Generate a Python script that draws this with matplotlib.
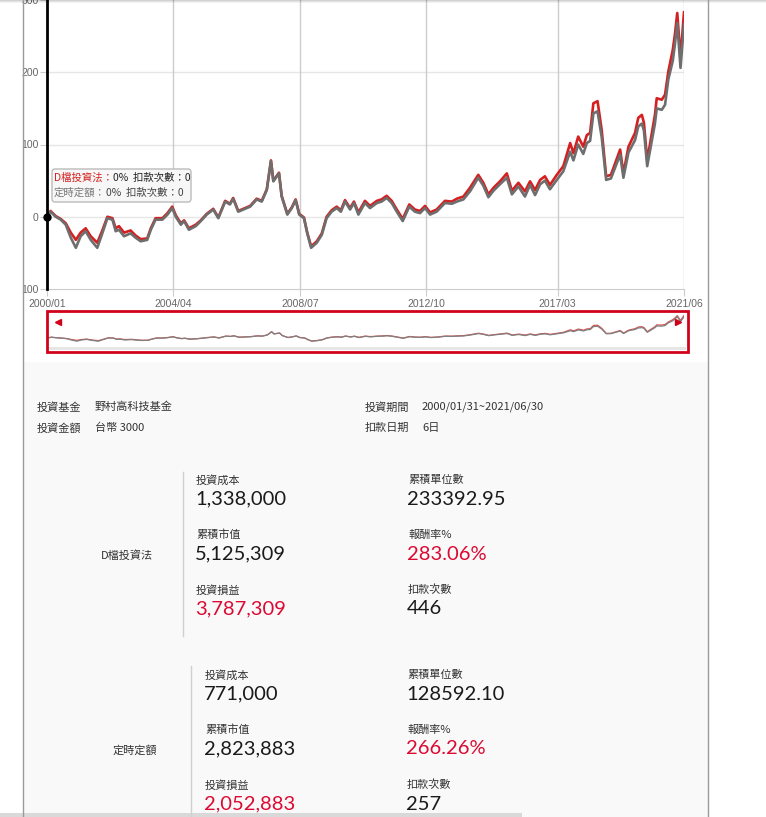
import numpy as np
import matplotlib.pyplot as plt
from matplotlib.patches import Rectangle, FancyBboxPatch
from matplotlib.lines import Line2D

plt.rcParams['font.family'] = ['Noto Sans CJK TC', 'DejaVu Sans']

W, H = 766, 817

# time as decimal year (2000/01 -> 2000.0), return in %
t = [2000.00, 2000.12, 2000.29, 2000.46, 2000.63, 2000.80, 2000.97, 2001.13, 2001.30, 2001.47,
     2001.69, 2001.86, 2002.03, 2002.20, 2002.31, 2002.42, 2002.59, 2002.81, 2002.98, 2003.15,
     2003.37, 2003.49, 2003.65, 2003.88, 2004.05, 2004.21, 2004.33, 2004.50, 2004.61, 2004.77,
     2005.00, 2005.17, 2005.37, 2005.59, 2005.76, 2005.99, 2006.15, 2006.26, 2006.43, 2006.60,
     2006.83, 2007.05, 2007.22, 2007.39, 2007.53, 2007.61, 2007.80, 2007.89, 2008.08, 2008.23,
     2008.36, 2008.48, 2008.64, 2008.75, 2008.88, 2009.07, 2009.24, 2009.40, 2009.57, 2009.74,
     2009.88, 2010.02, 2010.19, 2010.32, 2010.47, 2010.69, 2010.86, 2011.09, 2011.25, 2011.42,
     2011.59, 2011.76, 2011.96, 2012.18, 2012.37, 2012.54, 2012.71, 2012.88, 2013.10, 2013.38,
     2013.61, 2013.78, 2014.00, 2014.22, 2014.50, 2014.67, 2014.84, 2015.01, 2015.23, 2015.46,
     2015.63, 2015.85, 2016.07, 2016.24, 2016.41, 2016.58, 2016.74, 2016.91, 2017.14, 2017.36,
     2017.59, 2017.70, 2017.86, 2018.03, 2018.15, 2018.26, 2018.37, 2018.51, 2018.65, 2018.80,
     2018.96, 2019.10, 2019.27, 2019.38, 2019.55, 2019.77, 2019.88, 2020.00, 2020.07, 2020.18,
     2020.30, 2020.44, 2020.50, 2020.67, 2020.78, 2020.89, 2021.04, 2021.11, 2021.19, 2021.30,
     2021.417]
d_ret = [0, 8, 1, -3, -9, -22, -32, -22, -16, -27,
         -36, -19, 0, -2, -16, -13, -22, -19, -26, -31,
         -30, -16, -2, -2, 5, 14, 2, -9, -5, -16,
         -11, -5, 4, 11, -1, 22, 18, 26, 8, 11,
         15, 25, 22, 38, 78, 50, 61, 29, 4, 13,
         24, 4, -1, -22, -41, -34, -23, 0, 9, 14,
         9, 23, 12, 21, 6, 22, 15, 22, 24, 29,
         22, 10, -3, 17, 10, 8, 15, 6, 10, 22,
         21, 25, 28, 40, 58, 47, 31, 40, 49, 60,
         36, 47, 35, 49, 37, 51, 56, 44, 58, 70,
         102, 88, 111, 97, 113, 116, 157, 160, 120, 56,
         58, 74, 93, 60, 97, 116, 137, 141, 130, 78,
         107, 141, 164, 162, 169, 201, 231, 252, 282, 220,
         283.06]
fix_ret = [0, 7, 0, -4, -11, -29, -43, -27, -20, -32,
           -43, -23, -2, -4, -20, -18, -27, -23, -29, -34,
           -32, -18, -4, -4, 3, 12, 0, -11, -6, -18,
           -13, -6, 3, 10, -2, 21, 17, 25, 7, 10,
           14, 24, 21, 37, 77, 49, 60, 28, 3, 12,
           23, 3, -2, -23, -43, -36, -25, -2, 7, 12,
           7, 21, 10, 19, 3, 19, 12, 19, 21, 26,
           19, 7, -6, 14, 7, 5, 12, 3, 7, 19,
           18, 21, 24, 35, 54, 43, 27, 36, 45, 54,
           31, 42, 28, 44, 30, 45, 50, 38, 51, 63,
           90, 78, 100, 87, 102, 105, 143, 146, 110, 51,
           53, 68, 86, 54, 89, 106, 125, 129, 119, 70,
           97, 129, 150, 148, 155, 190, 216, 238, 268, 206,
           266.26]

xtick_pos = [2000.0, 2004.25, 2008.5, 2012.75, 2017.167, 2021.417]
xtick_lab = ['2000/01', '2004/04', '2008/07', '2012/10', '2017/03', '2021/06']
ytick_pos = [-100, 0, 100, 200, 300]
ytick_lab = ['100', '0', '100', '200', '300']

info_left = [('投資基金', '野村高科技基金'), ('投資金額', '台幣 3000')]
info_right = [('投資期間', '2000/01/31~2021/06/30'), ('扣款日期', '6日')]

stat_left = ['投資成本', '累積市值', '投資損益']
stat_right = ['累積單位數', '報酬率%', '扣款次數']
d_left = ['1,338,000', '5,125,309', '3,787,309']
d_right = ['233392.95', '283.06%', '446']
fix_left = ['771,000', '2,823,883', '2,052,883']
fix_right = ['128592.10', '266.26%', '257']

RED = '#d42020'
GRAY = '#6e6e6e'
CRIMSON = '#d0021b'
VAL_RED = '#dc0a32'


def fx(x):
    return x / W


def fy(y):
    return 1 - y / H


fig = plt.figure(figsize=(W / 100, H / 100), dpi=100)
fig.patch.set_facecolor('white')

# page panel and borders
fig.add_artist(Rectangle((fx(23), 0), fx(708) - fx(23), fy(362), transform=fig.transFigure,
                         facecolor='#f9f9f9', edgecolor='none', zorder=0))
for xb in (23, 708):
    fig.add_artist(Line2D([fx(xb), fx(xb)], [0, 1], transform=fig.transFigure, color='#9a9a9a', lw=1))
for i, a in enumerate([0.18, 0.1, 0.05]):
    fig.add_artist(Rectangle((0, fy(i + 1)), 1, 1 / H, transform=fig.transFigure,
                             facecolor='black', alpha=a, edgecolor='none'))
fig.add_artist(Rectangle((0, 0), fx(522), 4 / H, transform=fig.transFigure,
                         facecolor='#d9d9d9', edgecolor='none'))

# main chart
ax = fig.add_axes([fx(47), fy(289), (684 - 47) / W, 289 / H])
ax.set_facecolor('none')
ax.set_xlim(2000.0, 2021.417)
ax.set_ylim(-100, 300)
for yv in (0, 100, 200):
    ax.axhline(yv, color='#e6e6e6', lw=1, zorder=0)
for xv in xtick_pos[1:]:
    ax.axvline(xv, color='#cccccc', lw=1, zorder=0)
ax.plot(t, d_ret, color=RED, lw=1.9, zorder=2)
ax.plot(t, fix_ret, color=GRAY, lw=1.9, zorder=3)
ax.axvline(2000.0, color='black', lw=2, clip_on=False, zorder=4)
ax.plot([2000.0], [0], 'o', color='black', ms=5, clip_on=False, zorder=5)
for s in ('top', 'right', 'left'):
    ax.spines[s].set_visible(False)
ax.spines['bottom'].set_color('#cccccc')
ax.set_xticks(xtick_pos)
ax.set_xticklabels(xtick_lab, family='Liberation Sans')
ax.set_yticks(ytick_pos)
ax.set_yticklabels(ytick_lab, family='Liberation Sans')
ax.tick_params(axis='x', length=5, color='#cccccc', labelcolor='#666666', labelsize=7.5, pad=2)
ax.tick_params(axis='y', length=5, color='#cccccc', labelcolor='#666666', labelsize=7.5, pad=1)

# tooltip
fig.add_artist(FancyBboxPatch((fx(52), fy(202)), fx(191) - fx(52), 33 / H,
                              boxstyle='round,pad=0,rounding_size=0.004', transform=fig.transFigure,
                              facecolor='#f7f7f7', edgecolor='#bbbbbb', lw=1, zorder=6))
fig.canvas.draw()
rend = fig.canvas.get_renderer()


def seg_text(x, y, parts, size=7.5):
    for txt, col in parts:
        tt = fig.text(fx(x), fy(y), txt, color=col, fontsize=size, va='center', ha='left', zorder=7)
        x = tt.get_window_extent(rend).x1


seg_text(54, 178, [('D檔投資法：', RED), ('0%  扣款次數：0', '#222222')])
seg_text(54, 193, [('定時定額：', '#777777'), ('0%  扣款次數：0', '#444444')])

# navigator
fig.add_artist(Rectangle((fx(48), fy(350)), fx(686) - fx(48), 3 / H, transform=fig.transFigure,
                         facecolor='#e6e6e6', edgecolor='none'))
nav = fig.add_axes([fx(48), fy(349), (684 - 48) / W, 36 / H])
nav.set_xlim(2000.0, 2021.417)
nav.set_ylim(-142, 315)
nav.plot(t, d_ret, color='#d65050', lw=0.9)
nav.plot(t, fix_ret, color='#808080', lw=0.9)
nav.axis('off')
fig.add_artist(Rectangle((fx(47), fy(352)), fx(688) - fx(47), 41 / H, transform=fig.transFigure,
                         facecolor='none', edgecolor=CRIMSON, lw=2))
fig.add_artist(Line2D([fx(58)], [fy(322)], marker='<', ms=5, color=CRIMSON, transform=fig.transFigure))
fig.add_artist(Line2D([fx(678)], [fy(322)], marker='>', ms=5, color=CRIMSON, transform=fig.transFigure))

# fund info
for i, (k, v) in enumerate(info_left):
    fig.text(fx(37), fy(407 + 21 * i), k, fontsize=8, color='#333333', va='center')
    fig.text(fx(95), fy(407 + 21 * i), v, fontsize=8, color='#333333', va='center')
for i, (k, v) in enumerate(info_right):
    fig.text(fx(365), fy(407 + 21 * i), k, fontsize=8, color='#333333', va='center')
    fig.text(fx(422), fy(407 + 21 * i), v, fontsize=8, color='#333333', va='center')


def block(name, name_x, top, line_x, line_y0, line_y1, col1_x, col2_x, left_vals, right_vals):
    fig.text(fx(name_x), fy(top + 75), name, fontsize=8, color='#333333', ha='center', va='center')
    fig.add_artist(Line2D([fx(line_x), fx(line_x)], [fy(line_y0), fy(line_y1)],
                          transform=fig.transFigure, color='#d0d0d0', lw=1))
    for i in range(3):
        yl = top + 55 * i
        fig.text(fx(col1_x), fy(yl), stat_left[i], fontsize=8, color='#333333', va='center')
        fig.text(fx(col2_x), fy(yl), stat_right[i], fontsize=8, color='#333333', va='center')
        c1 = VAL_RED if i == 2 else '#1a1a1a'
        c2 = VAL_RED if i == 1 else '#1a1a1a'
        fig.text(fx(col1_x - 1), fy(yl + 19), left_vals[i], fontsize=14.5, color=c1, va='center',
                 family='Lato')
        fig.text(fx(col2_x - 1), fy(yl + 19), right_vals[i], fontsize=14.5, color=c2, va='center',
                 family='Lato')


block('D檔投資法', 127, 480, 183, 472, 636, 196, 408, d_left, d_right)
block('定時定額', 135, 675, 191, 666, 817, 205, 407, fix_left, fix_right)

fig.savefig('out.png', dpi=100)
